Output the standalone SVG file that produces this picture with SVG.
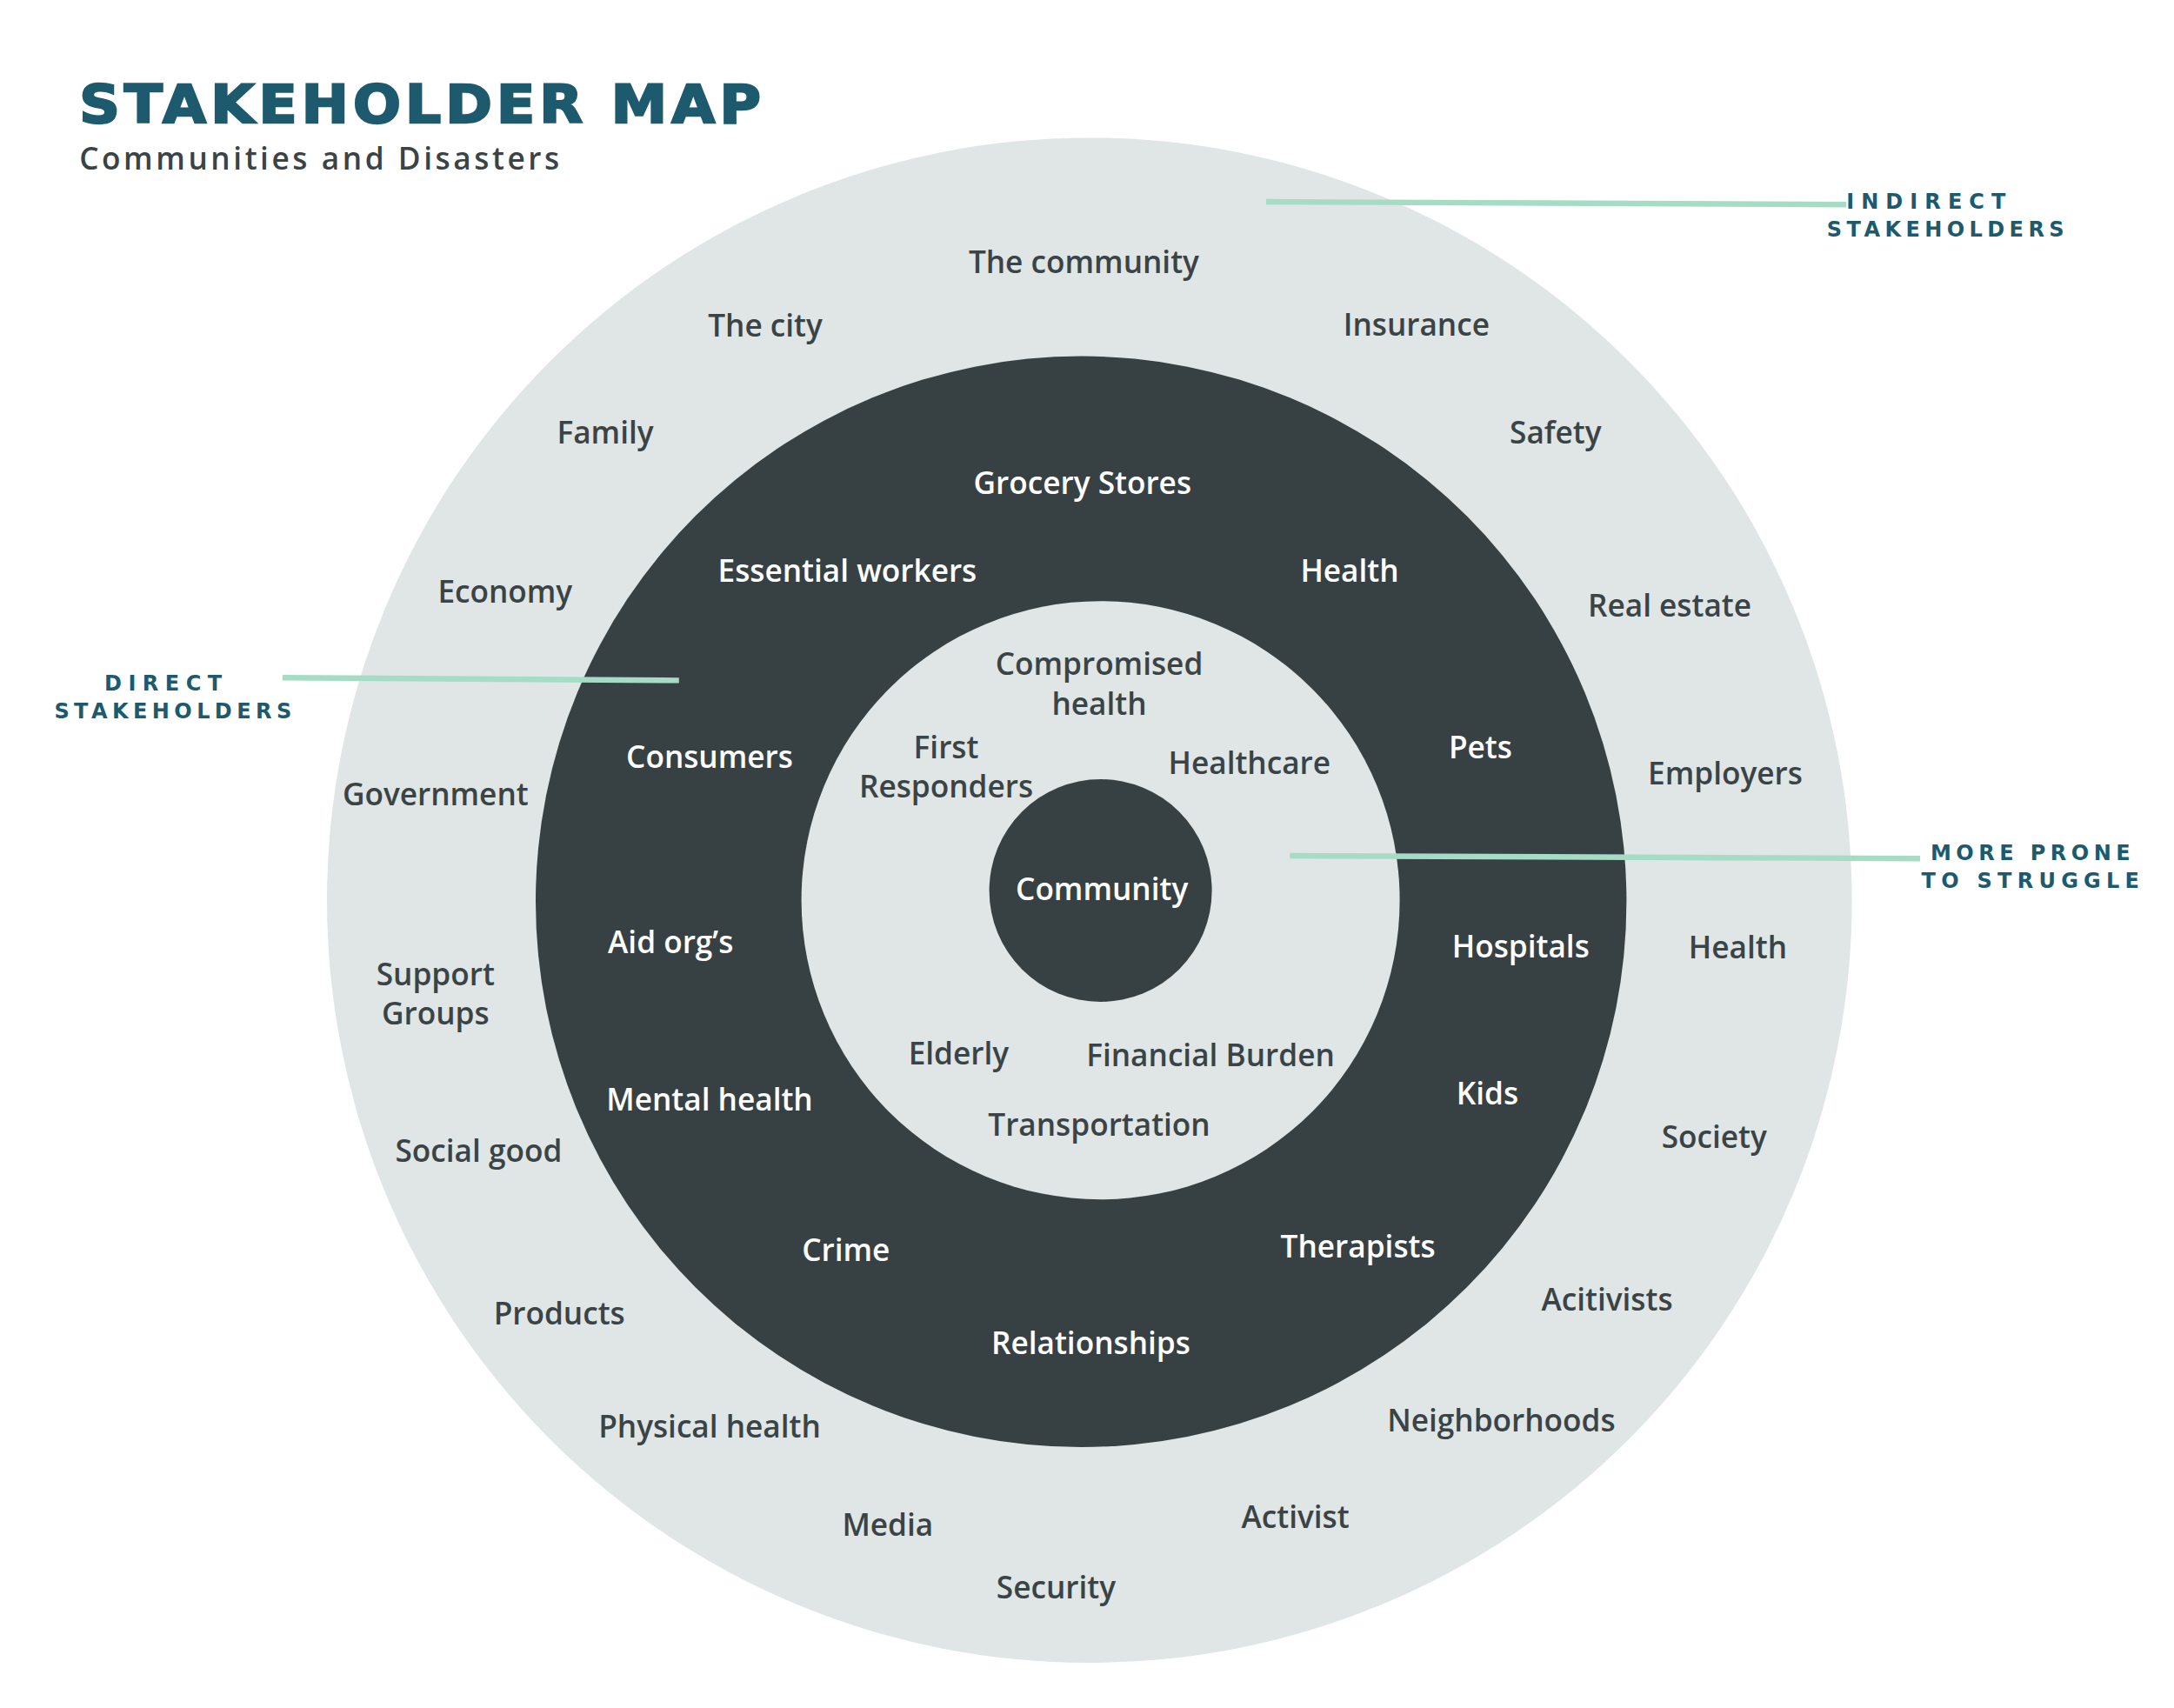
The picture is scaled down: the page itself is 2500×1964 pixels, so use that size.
<svg xmlns="http://www.w3.org/2000/svg" width="2500" height="1964" viewBox="0 0 2500 1964">
<style>
text{font-family:"Open Sans","Liberation Sans",sans-serif;font-weight:600;font-size:22px;text-anchor:middle}
.o{fill:#3a4346}.w{fill:#ffffff}.i{fill:#3a4346}
.lab{font-family:"DejaVu Sans","Liberation Sans",sans-serif;font-weight:900;font-size:15px;fill:#1d5a6e;letter-spacing:1.5px}
.ln{stroke:#a6dcc6;stroke-width:4;fill:none}
</style>
<rect width="2500" height="1964" fill="#ffffff"/>
<g transform="scale(1.6)">
<g id="title">
<text x="57" y="88" textLength="493" lengthAdjust="spacingAndGlyphs" style="text-anchor:start;font-family:'DejaVu Sans',sans-serif;font-weight:900;font-size:38px;fill:#1d5a6e;letter-spacing:3px;stroke:#1d5a6e;stroke-width:1.5">STAKEHOLDER  MAP</text>
<text x="57" y="122" textLength="345" style="text-anchor:start;font-size:22px;fill:#3a4346">Communities and Disasters</text>
</g>
<g id="ring-indirect"><circle cx="783" cy="647" r="548" fill="#dfe6e5"/></g>
<g id="ring-direct"><circle cx="777" cy="648" r="392" fill="#374144"/></g>
<g id="ring-prone"><circle cx="791" cy="647" r="215" fill="#dfe6e5"/></g>
<g id="core"><circle cx="791" cy="640" r="80" fill="#374144"/><text class="w" x="792" y="647">Community</text></g>
<g id="connectors">
<path class="ln" d="M910 145 L1327 147"/>
<path class="ln" d="M203 487 L488 489"/>
<path class="ln" d="M927 615 L1380 617"/>
</g>
<g id="labels">
<text class="lab" x="1385" y="150" textLength="116">INDIRECT</text>
<text class="lab" x="1399" y="170" textLength="172">STAKEHOLDERS</text>
<text class="lab" x="118" y="496" textLength="86">DIRECT</text>
<text class="lab" x="125" y="516" textLength="172">STAKEHOLDERS</text>
<text class="lab" x="1460" y="618" textLength="145">MORE  PRONE</text>
<text class="lab" x="1460" y="638" textLength="158">TO  STRUGGLE</text>
</g>
<g id="outer-items" class="o">
<text class="o" x="779" y="196">The community</text>
<text class="o" x="550" y="242">The city</text>
<text class="o" x="1018" y="241">Insurance</text>
<text class="o" x="435" y="319">Family</text>
<text class="o" x="1118" y="319">Safety</text>
<text class="o" x="363" y="433">Economy</text>
<text class="o" x="1200" y="443">Real estate</text>
<text class="o" x="313" y="579">Government</text>
<text class="o" x="1240" y="564">Employers</text>
<text class="o" x="313" y="708">Support</text>
<text class="o" x="313" y="736">Groups</text>
<text class="o" x="1249" y="689">Health</text>
<text class="o" x="344" y="835">Social good</text>
<text class="o" x="1232" y="825">Society</text>
<text class="o" x="402" y="952">Products</text>
<text class="o" x="1155" y="942">Acitivists</text>
<text class="o" x="510" y="1033">Physical health</text>
<text class="o" x="1079" y="1029">Neighborhoods</text>
<text class="o" x="638" y="1104">Media</text>
<text class="o" x="931" y="1098">Activist</text>
<text class="o" x="759" y="1149">Security</text>
</g>
<g id="direct-items">
<text class="w" x="778" y="355">Grocery Stores</text>
<text class="w" x="609" y="418">Essential workers</text>
<text class="w" x="970" y="418">Health</text>
<text class="w" x="510" y="552">Consumers</text>
<text class="w" x="1064" y="545">Pets</text>
<text class="w" x="482" y="685">Aid org’s</text>
<text class="w" x="1093" y="688">Hospitals</text>
<text class="w" x="510" y="798">Mental health</text>
<text class="w" x="1069" y="794">Kids</text>
<text class="w" x="608" y="906">Crime</text>
<text class="w" x="976" y="904">Therapists</text>
<text class="w" x="784" y="973">Relationships</text>
</g>
<g id="prone-items">
<text class="i" x="790" y="485">Compromised</text>
<text class="i" x="790" y="514">health</text>
<text class="i" x="680" y="545">First</text>
<text class="i" x="680" y="573">Responders</text>
<text class="i" x="898" y="556">Healthcare</text>
<text class="i" x="689" y="765">Elderly</text>
<text class="i" x="870" y="766">Financial Burden</text>
<text class="i" x="790" y="816">Transportation</text>
</g>
</g>
</svg>
